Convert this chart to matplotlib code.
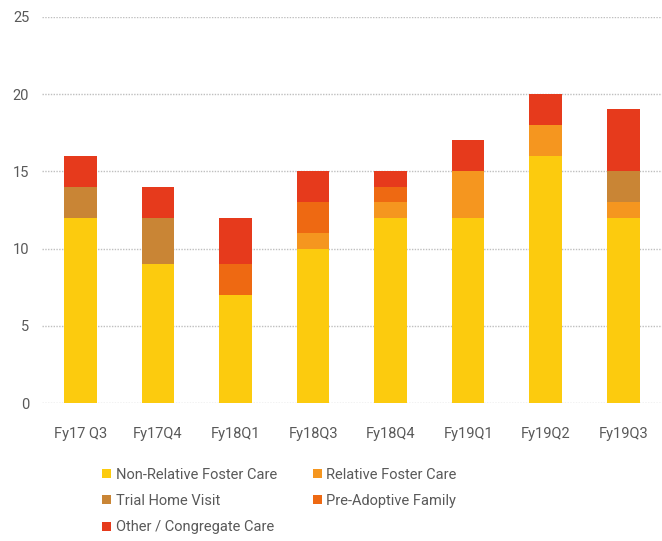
import matplotlib.pyplot as plt
import numpy as np

quarters = ["Fy17 Q3", "Fy17Q4", "Fy18Q1", "Fy18Q3", "Fy18Q4", "Fy19Q1", "Fy19Q2", "Fy19Q3"]
non_relative = [12, 9, 7, 10, 12, 12, 16, 12]
relative = [0, 0, 0, 1, 1, 3, 2, 1]
trial_home = [2, 3, 0, 0, 0, 0, 0, 2]
pre_adoptive = [0, 0, 2, 2, 1, 0, 0, 0]
other = [2, 2, 3, 2, 1, 2, 2, 4]

series = [
    ("Non-Relative Foster Care", non_relative, "#FCCB0E"),
    ("Relative Foster Care", relative, "#F5961F"),
    ("Trial Home Visit", trial_home, "#C98535"),
    ("Pre-Adoptive Family", pre_adoptive, "#EE6912"),
    ("Other / Congregate Care", other, "#E63A1C"),
]

plt.rcParams['font.family'] = ['Roboto', 'DejaVu Sans']
fig = plt.figure(figsize=(6.62, 5.41), dpi=100)
ax = fig.add_axes([0.063, 0.255, 0.937, 0.714])

x = np.arange(len(quarters))
bottom = np.zeros(len(quarters))
for name, vals, color in series:
    ax.bar(x, vals, width=0.42, bottom=bottom, color=color, label=name, zorder=3)
    bottom += np.array(vals)

ax.set_xlim(-0.5, len(quarters) - 0.5)
ax.set_ylim(0, 25)
ax.set_yticks([0, 5, 10, 15, 20, 25])
ax.set_xticks(x)
ax.set_xticklabels(quarters)
ax.tick_params(length=0, colors="#595959", labelsize=10.5, pad=9)
ax.tick_params(axis="x", pad=17)
ax.yaxis.grid(True, linestyle=(0, (1, 1)), color="#BFBFBF", linewidth=1, zorder=0)
for s in ax.spines.values():
    s.set_visible(False)

handles, labels = ax.get_legend_handles_labels()
order = [0, 2, 4, 1, 3]
fig.legend([handles[i] for i in order], [labels[i] for i in order],
           loc="upper left", bbox_to_anchor=(0.135, 0.16), ncol=2, frameon=False,
           fontsize=10.5, labelcolor="#595959", handlelength=0.6, handleheight=0.6,
           handletextpad=0.3, columnspacing=2.5, labelspacing=0.85)

fig.savefig("out.png", dpi=100)
